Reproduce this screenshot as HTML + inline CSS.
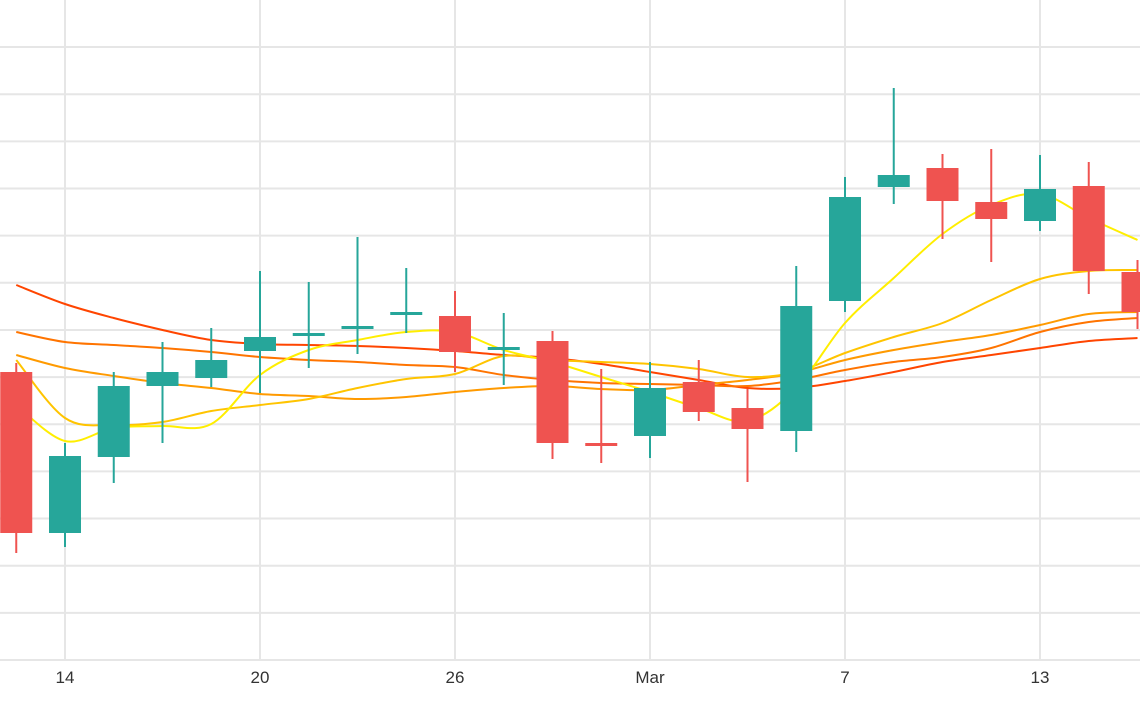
<!DOCTYPE html>
<html><head><meta charset="utf-8"><style>
html,body{margin:0;padding:0;background:#fff;}
svg{display:block;font-family:"Liberation Sans",sans-serif;}
</style></head><body>
<svg id="chart" width="1140" height="710" viewBox="0 0 1140 710">
<g id="grid"></g>
<g id="lines"></g>
<g id="candles"></g>
<g id="xaxis"></g>
</svg>
<script>
const openV  = [328,167,243,314,322,349,364,371,385,384,351,359,257,264,318,292,269,399,513,532,498,479,514,428];
const closeV = [167,244,314,328,340,363,367,374,388,348,353,257,255,312,288,271,394,503,525,499,481,511,429,388];
const highV  = [337,257,328,358,372,429,418,463,432,409,387,369,331,338,340,311,434,523,612,546,551,545,538,440];
const lowV   = [147,153,217,257,313,307,332,346,367,328,315,241,237,242,279,218,248,388,496,461,438,469,406,371];
const maYellow = [295,259,272,274,276,325,350,360,368,368,350,338,323,308,292,279,312,377,422,466,495,506,482,460];
const maGold   = [340,282,275,278,289,295,301,312,321,326,344,340,338,336,331,323,328,347,363,377,400,421,429,430];
const maOrangeA= [368,358,355,352,348,343,340,338,335,333,325,320,317,316,315,314,320,330,338,343,352,368,378,382];
const maOrangeB= [345,332,324,317,312,306,304,301,303,308,312,314,311,310,315,320,327,340,350,358,365,375,386,388];
const maRed    = [415,396,382,370,360,356,355,354,352,349,345,342,336,328,320,312,312,319,328,338,345,352,359,362];
const tickLabels = ["14","20","26","Mar","7","13"];
const tickIndex  = [1,5,9,13,17,21];

const NS="http://www.w3.org/2000/svg";
function xS(i){return 16.25+i*48.75;}
function yS(v){return 660-(v-40)*(660/660);}
function mk(tag,parent){const e=document.createElementNS(NS,tag);parent.appendChild(e);return e;}

const grid=document.getElementById('grid');
for(let k=0;k<14;k++){
  const y=660-k*47.15;
  const l=mk('line',grid);
  
  
  l.setAttribute('x1',0);l.setAttribute('x2',1140);l.setAttribute('y1',y);l.setAttribute('y2',y);
  l.setAttribute('stroke','#e6e6e6');l.setAttribute('stroke-width',2);
}
const xa=document.getElementById('xaxis');
tickIndex.forEach((ti,j)=>{
  const x=xS(ti);
  const l=mk('line',grid);
  
  
  l.setAttribute('x1',x);l.setAttribute('x2',x);l.setAttribute('y1',0);l.setAttribute('y2',660);
  l.setAttribute('stroke','#e6e6e6');l.setAttribute('stroke-width',2);
  const t=mk('text',xa);
  
  
  t.setAttribute('x',x);t.setAttribute('y',683);t.setAttribute('text-anchor','middle');
  t.setAttribute('font-size',17);t.setAttribute('fill','#333');
  t.textContent=tickLabels[j];
});

function smooth(vals){
  const p=vals.map((v,i)=>[xS(i),yS(v)]);
  let d='M'+p[0][0]+','+p[0][1];
  for(let i=0;i<p.length-1;i++){
    const p0=p[i-1]||p[i],p1=p[i],p2=p[i+1],p3=p[i+2]||p[i+1];
    const c1=[p1[0]+(p2[0]-p0[0])/6,p1[1]+(p2[1]-p0[1])/6];
    const c2=[p2[0]-(p3[0]-p1[0])/6,p2[1]-(p3[1]-p1[1])/6];
    d+=' C'+c1[0]+','+c1[1]+' '+c2[0]+','+c2[1]+' '+p2[0]+','+p2[1];
  }
  return d;
}
const lg=document.getElementById('lines');
[[maRed,'#ff4500','ma-red'],[maOrangeA,'#ff7400','ma-orange-a'],[maOrangeB,'#ff9a00','ma-orange-b'],[maGold,'#ffc400','ma-gold'],[maYellow,'#ffee00','ma-yellow']].forEach(s=>{
  const p=mk('path',lg);
  
  
  p.setAttribute('d',smooth(s[0]));p.setAttribute('fill','none');
  p.setAttribute('stroke',s[1]);p.setAttribute('stroke-width',2);
});

const cg=document.getElementById('candles');
openV.forEach((o,i)=>{
  const c=closeV[i],up=c>=o,col=up?'#26a69a':'#ef5350';
  const g=mk('g',cg);
  
  
  const x=xS(i);
  const w=mk('line',g);
  
  
  w.setAttribute('x1',x);w.setAttribute('x2',x);w.setAttribute('y1',yS(highV[i]));w.setAttribute('y2',yS(lowV[i]));
  w.setAttribute('stroke',col);w.setAttribute('stroke-width',2);
  const top=yS(Math.max(o,c)),h=Math.max(3,Math.abs(yS(o)-yS(c)));
  const r=mk('rect',g);
  
  
  r.setAttribute('x',x-16);r.setAttribute('width',32);r.setAttribute('y',top);r.setAttribute('height',h);
  r.setAttribute('fill',col);
});
</script>
</body></html>
